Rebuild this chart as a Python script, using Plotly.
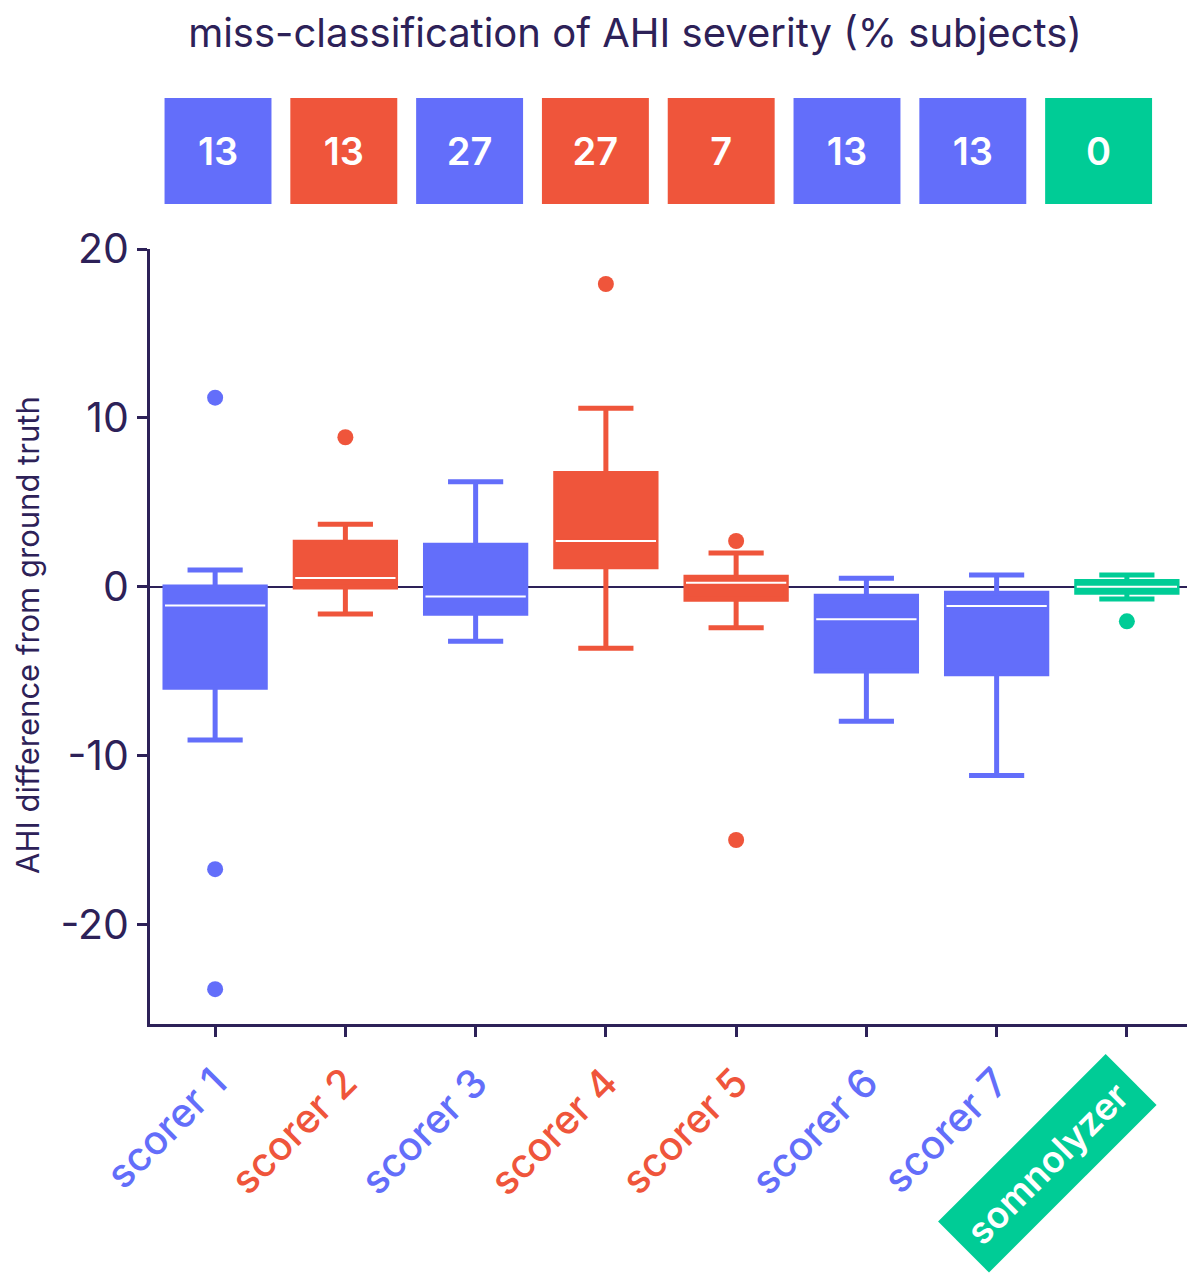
import plotly.graph_objects as go

# ---- data ----
categories = ["scorer 1", "scorer 2", "scorer 3", "scorer 4", "scorer 5", "scorer 6", "scorer 7", "somnolyzer"]
miss_pct = [13, 13, 27, 27, 7, 13, 13, 0]
q1 = [-5.94, 0.0, -1.56, 1.2, -0.73, -4.97, -5.13, -0.31]
median = [-1.1, 0.53, -0.57, 2.72, 0.25, -1.91, -1.12, 0.02]
q3 = [0.0, 2.64, 2.47, 6.71, 0.57, -0.55, -0.37, 0.33]
lower_whisker = [-9.05, -1.6, -3.21, -3.63, -2.41, -7.95, -11.16, -0.71]
upper_whisker = [1.0, 3.71, 6.23, 10.57, 2.01, 0.51, 0.71, 0.71]
outliers = [[11.2, -16.7, -23.8], [8.86], [], [17.93], [2.72, -14.97], [], [], [-2.03]]
y_ticks = [20, 10, 0, -10, -20]

BLUE = "#636EFA"
RED = "#EF553B"
GREEN = "#00CC96"
DARK = "#2d2158"
colors = [BLUE, RED, BLUE, RED, RED, BLUE, BLUE, GREEN]
FONT = "Inter"

fig = go.Figure()

for i, cat in enumerate(categories):
    fig.add_trace(go.Box(
        x=[i], q1=[q1[i]], median=[median[i]], q3=[q3[i]],
        lowerfence=[lower_whisker[i]], upperfence=[upper_whisker[i]],
        fillcolor=colors[i], line=dict(color=colors[i], width=5),
        width=0.77, whiskerwidth=0.55, boxpoints=False,
        showlegend=False, hoverinfo="skip", xaxis="x", yaxis="y",
    ))
    # white median line
    fig.add_trace(go.Box(
        x=[i], q1=[median[i]], median=[median[i]], q3=[median[i]],
        lowerfence=[median[i]], upperfence=[median[i]],
        fillcolor="rgba(0,0,0,0)", line=dict(color="white", width=2),
        width=0.77, whiskerwidth=0, boxpoints=False,
        showlegend=False, hoverinfo="skip", xaxis="x", yaxis="y",
    ))
    if outliers[i]:
        fig.add_trace(go.Scatter(
            x=[i] * len(outliers[i]), y=outliers[i], mode="markers",
            marker=dict(color=colors[i], size=16),
            showlegend=False, hoverinfo="skip", xaxis="x", yaxis="y",
        ))

# top row of miss-classification boxes
fig.add_trace(go.Bar(
    x=list(range(len(categories))), y=[1] * len(categories),
    marker=dict(color=colors, line=dict(width=0)),
    text=[str(v) for v in miss_pct], textposition="inside",
    insidetextanchor="middle", constraintext="none",
    textfont=dict(color="white", size=38, family=FONT, weight=600),
    showlegend=False, hoverinfo="skip", xaxis="x2", yaxis="y2",
))

ticktext = [f'<span style="color:{colors[i]}">{c}</span>' for i, c in enumerate(categories[:-1])] + [""]

# page body has an 8px offset; compensate
OFF = 8
H, W = 1284 - OFF, 1195 - OFF
axis_left, axis_bottom, axis_top, plot_right = 150 - OFF, 1024 - OFF, 249 - OFF, 1192 - OFF
plot_t = 90 - OFF
pw = plot_right - axis_left
ph = axis_bottom - plot_t

def px_y(py):
    return (axis_bottom - (py - OFF)) / ph

fig.update_layout(
    width=W, height=H,
    margin=dict(l=axis_left, r=W - plot_right, t=plot_t, b=H - axis_bottom),
    paper_bgcolor="white", plot_bgcolor="white",
    boxmode="overlay", bargap=0.15,
    font=dict(family=FONT, color=DARK),
    title=dict(text="miss-classification of AHI severity (% subjects)",
               x=(635 - OFF) / W, xref="container", xanchor="center",
               y=1 - (33 - OFF) / H, yref="container", yanchor="middle",
               font=dict(size=40, color=DARK, family=FONT)),
    xaxis=dict(domain=[0, 1], range=[-0.5, 7.5],
               tickvals=list(range(len(categories))), ticktext=ticktext,
               tickangle=-45, tickfont=dict(size=40, family=FONT, weight=500),
               ticklabelstandoff=6,
               showline=True, linecolor=DARK, linewidth=3,
               ticks="outside", ticklen=10, tickwidth=3, tickcolor=DARK,
               showgrid=False, zeroline=False),
    yaxis=dict(domain=[0, (axis_bottom - axis_top) / ph], range=[-25.86, 20],
               tickvals=y_ticks, ticktext=[str(v) for v in y_ticks],
               tickfont=dict(size=41, family=FONT, color=DARK),
               showline=True, linecolor=DARK, linewidth=3,
               ticks="outside", ticklen=10, tickwidth=3, tickcolor=DARK,
               showgrid=False, zeroline=True, zerolinecolor=DARK, zerolinewidth=2),
    xaxis2=dict(domain=[(155.1 - 150) / 1042, (1161.5 - 150) / 1042],
                range=[-0.5, 7.5], anchor="y2", visible=False),
    yaxis2=dict(domain=[px_y(204), px_y(98)], range=[0, 1],
                anchor="x2", visible=False),
    annotations=[
        dict(text="AHI difference from ground truth", textangle=-90,
             x=(27 - 150) / pw, y=px_y(635), xref="paper", yref="paper",
             xanchor="center", yanchor="middle", showarrow=False,
             font=dict(size=31, family=FONT, color=DARK)),
        dict(text="somnolyzer", textangle=-45, x=7, xref="x",
             y=px_y(1163), yref="paper", xshift=-80,
             xanchor="center", yanchor="middle", showarrow=False,
             bgcolor=GREEN, borderpad=13,
             font=dict(size=37, family=FONT, color="white", weight=600)),
    ],
)

fig.write_html("out.html")
